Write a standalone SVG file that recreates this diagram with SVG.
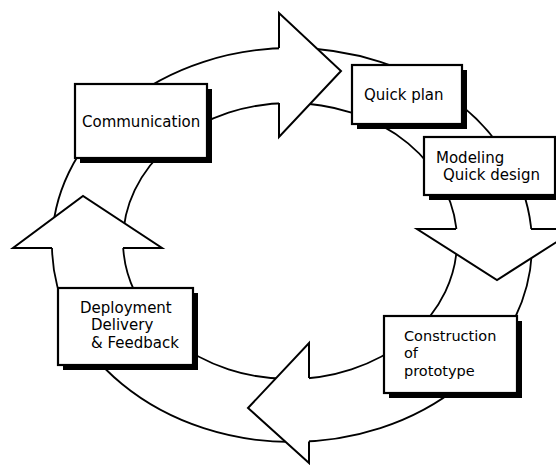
<svg xmlns="http://www.w3.org/2000/svg" width="556" height="465" viewBox="0 0 556 465">
<style>
.ring{fill:none;stroke:#000;stroke-width:1.8}
.headfill{fill:#fff;stroke:none}
.headline{fill:none;stroke:#000;stroke-width:2;stroke-linejoin:miter}
.shadow{fill:#000}
.box{fill:#fff;stroke:#000;stroke-width:2.2}
.lbl{font-family:"DejaVu Sans","Liberation Sans",sans-serif;font-size:15px;fill:#000}
</style>
<rect width="556" height="465" fill="#fff"/>
<g id="connectors">
  <ellipse class="ring" cx="292" cy="245" rx="240" ry="197"/>
  <ellipse class="ring" cx="290" cy="241" rx="167" ry="138"/>
  <!-- top arrow head (right) -->
  <polygon class="headfill" points="279,13 341,71 279,137"/>
  <polyline class="headline" points="279,48 279,13 341,71 279,137 279,103"/>
  <!-- right arrow head (down) -->
  <polygon class="headfill" points="417,229 497,280 577,229"/>
  <polyline class="headline" points="456,229 417,229 497,280 577,229 531,229"/>
  <!-- bottom arrow head (left) -->
  <polygon class="headfill" points="309,343 248,408 309,463"/>
  <polyline class="headline" points="309,378 309,343 248,408 309,463 309,441.5"/>
  <!-- left arrow head (up) -->
  <polygon class="headfill" points="13,248 83,196 162,248"/>
  <polyline class="headline" points="52,248 13,248 83,196 162,248 123,248"/>
</g>
<g id="communication">
  <rect class="shadow" x="80" y="89" width="132" height="74"/>
  <rect class="box" x="75" y="84" width="132" height="74"/>
  <text class="lbl" x="82" y="127">Communication</text>
</g>
<g id="quick-plan">
  <rect class="shadow" x="357" y="70" width="110" height="59"/>
  <rect class="box" x="352" y="65" width="110" height="59"/>
  <text class="lbl" x="364" y="100">Quick plan</text>
</g>
<g id="modeling">
  <rect class="shadow" x="429" y="142" width="131" height="58"/>
  <rect class="box" x="424" y="137" width="131" height="58"/>
  <text class="lbl" x="436" y="163">Modeling</text>
  <text class="lbl" x="443" y="180">Quick design</text>
</g>
<g id="construction">
  <rect class="shadow" x="389" y="321" width="133" height="77"/>
  <rect class="box" x="384" y="316" width="133" height="77"/>
  <text class="lbl" x="404" y="341" style="font-size:14.5px">Construction</text>
  <text class="lbl" x="404" y="358" style="font-size:14.5px">of</text>
  <text class="lbl" x="404" y="376" style="font-size:14.5px">prototype</text>
</g>
<g id="deployment">
  <rect class="shadow" x="63" y="293" width="135" height="77"/>
  <rect class="box" x="58" y="288" width="135" height="77"/>
  <text class="lbl" x="80" y="313">Deployment</text>
  <text class="lbl" x="91" y="330">Delivery</text>
  <text class="lbl" x="91" y="348">&amp; Feedback</text>
</g>
</svg>
